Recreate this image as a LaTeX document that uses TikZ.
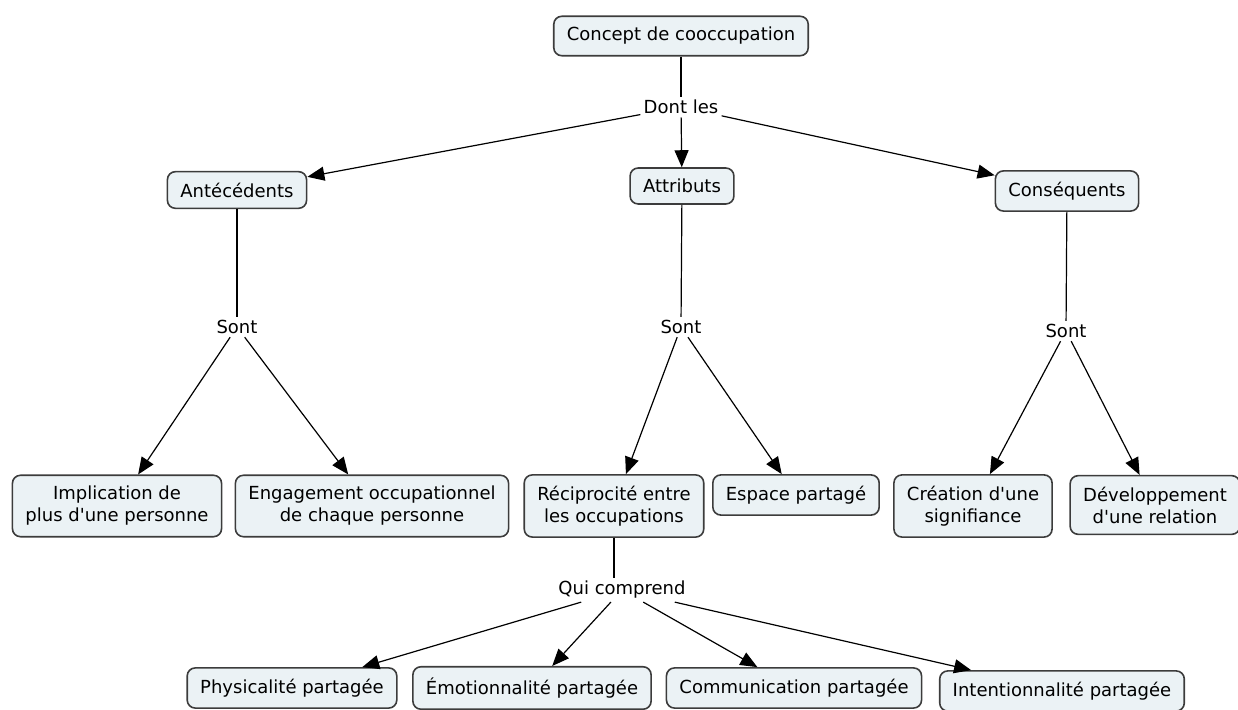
\documentclass[tikz,border=0pt]{standalone}
\usepackage{fontspec}
\setmainfont{DejaVu Sans}[Ligatures=TeXOff]
\usetikzlibrary{arrows.meta}
\definecolor{boxfill}{HTML}{EBF2F5}
\definecolor{boxline}{HTML}{3C3C3C}
\tikzstyle{concept}=[draw=boxline,fill=boxfill,line width=0.8pt,rounded corners=4pt,align=center,inner xsep=6.5pt,inner ysep=5.5pt,font=\fontsize{9}{11}\selectfont]
\tikzstyle{linking}=[inner sep=1.5pt,font=\fontsize{9}{11}\selectfont]
\tikzstyle{edge} = [draw,line width=0.6pt,-]
\tikzstyle{arrow edge} = [draw,line width=0.6pt,-{Triangle[length=8.5pt,width=7pt]}]

\begin{document}
\begin{tikzpicture}[x=0.5pt,y=-0.5pt]
    \useasboundingbox (0,0) rectangle (1238,710);
	\foreach \pos/\name/\txt in {{(681,36)/concept/Concept de cooccupation},
                            {(237,190)/antec/Antécédents}, {(682,186)/attr/Attributs},
                            {(1067,191)/conseq/Conséquents},
                            {(117,506)/impl/{Implication de\\plus d'une personne}},
                            {(372,506)/engag/{Engagement occupationnel\\de chaque personne}},
                            {(614,506)/recip/{Réciprocité entre\\les occupations}},
                            {(796,495)/espace/Espace partagé},
                            {(973,506)/creation/{Création d'une\\signifiance}},
                            {(1155,505)/devel/{Développement\\d'une relation}},
                            {(292,688)/phys/Physicalité partagée},
                            {(532,688)/emot/Émotionnalité partagée},
                            {(794,688)/comm/Communication partagée},
                            {(1062,691)/intent/Intentionnalité partagée}}
        \node[concept] (\name) at \pos {\txt};
	\foreach \pos/\name/\txt in {{(681,107)/dontles/Dont les}, {(237,327)/sontA/Sont},
                            {(681,327)/sontB/Sont}, {(1066,331)/sontC/Sont},
                            {(622,590)/qui/Qui comprend}}
        \node[linking] (\name) at \pos {\txt};
    \foreach \source/ \dest in {concept/dontles, antec/sontA, attr/sontB, conseq/sontC}
        \path[edge] (\source) -- (\dest);
    \path[edge] (recip.south) -- (recip.south |- qui.north);
    \foreach \source/ \dest in {dontles/antec, dontles/attr, dontles/conseq,
                                sontA/impl, sontA/engag, sontB/recip, sontB/espace,
                                sontC/creation, sontC/devel,
                                qui/phys, qui/emot, qui/comm, qui/intent}
        \path[arrow edge] (\source) -- (\dest);
\end{tikzpicture}
\end{document}
